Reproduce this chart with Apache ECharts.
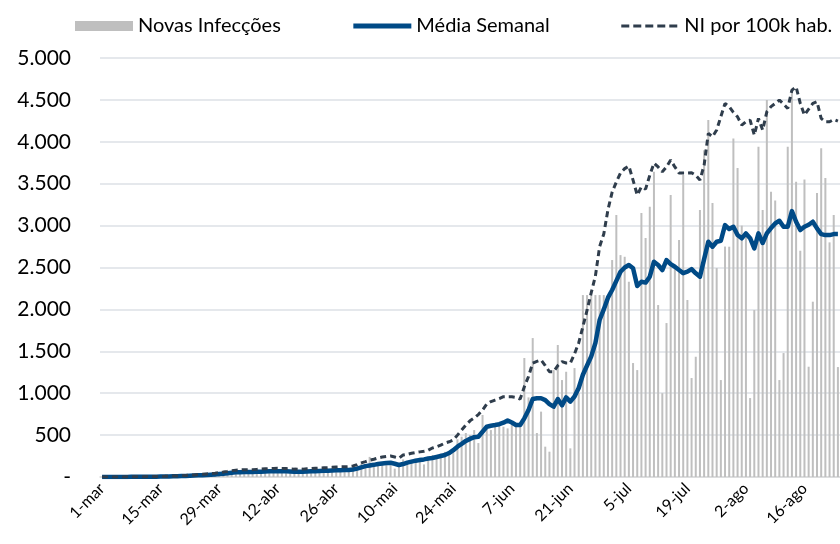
<!DOCTYPE html>
<html>
<head>
<meta charset="utf-8">
<script src="https://cdn.jsdelivr.net/npm/echarts@6/dist/echarts.min.js"></script>
<style>
  html, body { margin: 0; padding: 0; background: #fff; }
  #chart { width: 840px; height: 544px; }
</style>
</head>
<body>
<div id="chart"></div>
<script>
// categorias: um dia por ponto, de 1-mar a 24-ago
const meses = ['mar', 'abr', 'mai', 'jun', 'jul', 'ago']
const diasNoMes = [31, 30, 31, 30, 31, 24]
const dias = []
meses.forEach((m, k) => {
  for (let d = 1; d <= diasNoMes[k]; d++) dias.push(d + '-' + m)
})

// Novas Infecções (barras diárias)
const novasInfeccoes = [
  0, 0, 0, 0, 0, 1, 0, 2, 1, 3,
  2, 4, 5, 3, 6, 8, 5, 10, 12, 9,
  15, 18, 12, 22, 26, 30, 21, 35,
  48, 52, 70, 55, 66, 58, 62, 72,
  50, 68, 75, 70, 78, 66, 60, 72,
  55, 62, 70, 64, 80, 72, 68, 75,
  70, 82, 90, 76, 85, 88, 80, 95,
  110, 140, 160, 150, 240, 130, 160, 170,
  185, 140, 100, 130, 210, 190, 200, 220,
  230, 150, 230, 262, 250, 280, 300, 280,
  330, 450, 481, 525, 500, 560, 405, 740,
  600, 560, 600, 640, 600, 580, 620, 620,
  600, 1420, 950, 1658, 525, 780, 362, 302,
  1276, 1575, 1157, 1256, 342, 1300, 1000, 2171,
  2171, 2171, 2171, 2171, 2171, 2171, 2589, 3126,
  2648, 2628, 2330, 1360, 1276, 3149, 2852, 3225,
  3642, 2052, 1000, 1837, 3364, 2500, 2828, 3603,
  2112, 1181, 1435, 3185, 3900, 4259, 3269, 2493,
  1157, 2750, 2748, 4040, 3686, 3000, 2900, 942,
  1992, 3941, 3185, 4498, 3404, 3300, 1157, 1479,
  3941, 4600, 3523, 2700, 3550, 1316, 2092, 3388,
  3922, 3567, 2800, 3126, 1312
]

// Média Semanal
const mediaSemanal = [
  0, 0, 0, 0, 1, 1, 1, 2, 2, 2,
  3, 3, 4, 4, 5, 6, 7, 8, 9, 11,
  13, 15, 17, 20, 22, 25, 28, 31,
  35, 40, 46, 52, 56, 58, 60, 60,
  60, 62, 64, 66, 68, 70, 70, 69,
  68, 66, 64, 63, 64, 66, 68, 70,
  72, 74, 76, 78, 80, 82, 83, 84,
  90, 100, 115, 130, 138, 145, 155, 162,
  168, 170, 158, 143, 155, 172, 183, 195,
  203, 210, 220, 227, 238, 250, 262, 286,
  320, 362, 395, 430, 455, 475, 480, 540,
  600, 612, 620, 630, 648, 675, 650, 620,
  620, 700, 800, 930, 940, 940, 918, 870,
  839, 930, 855, 950, 900, 960, 1062, 1220,
  1330, 1440, 1600, 1873, 2000, 2140, 2231, 2340,
  2449, 2500, 2529, 2490, 2279, 2330, 2320, 2390,
  2569, 2530, 2470, 2589, 2540, 2509, 2470, 2433,
  2450, 2481, 2430, 2390, 2600, 2807, 2748, 2807,
  2819, 3006, 2959, 2986, 2887, 2848, 2907, 2850,
  2728, 2907, 2792, 2907, 2970, 3026, 3058, 2986,
  2986, 3173, 3046, 2947, 2986, 3010, 3046, 2967,
  2899, 2887, 2887, 2899, 2899
]

// NI por 100k hab. (na escala do eixo principal)
const niPor100k = [
  0, 0, 0, 0, 1, 1, 2, 2, 3, 3,
  4, 5, 5, 6, 7, 8, 10, 12, 13, 16,
  19, 22, 25, 29, 33, 37, 41, 46,
  52, 59, 67, 76, 82, 85, 88, 88,
  88, 91, 94, 97, 100, 102, 103, 101,
  100, 97, 94, 92, 94, 97, 100, 103,
  106, 109, 112, 115, 118, 121, 122, 124,
  132, 147, 168, 183, 200, 212, 227, 238,
  245, 250, 238, 225, 262, 270, 283, 292,
  300, 308, 320, 346, 360, 380, 405, 420,
  441, 500, 560, 620, 670, 704, 745, 800,
  870, 900, 918, 935, 958, 958, 958, 950,
  930, 1077, 1200, 1360, 1380, 1396, 1330, 1256,
  1256, 1330, 1376, 1360, 1360, 1470, 1600, 1793,
  1990, 2200, 2400, 2748, 2900, 3190, 3400, 3520,
  3627, 3680, 3710, 3543, 3364, 3463, 3436, 3600,
  3746, 3700, 3642, 3700, 3782, 3700, 3627, 3627,
  3627, 3630, 3600, 3543, 3722, 4100, 4060, 4140,
  4300, 4458, 4418, 4350, 4298, 4199, 4240, 4259,
  4080, 4279, 4140, 4358, 4420, 4458, 4498, 4450,
  4398, 4617, 4656, 4458, 4319, 4390, 4458, 4478,
  4279, 4239, 4239, 4267, 4247
]

const chart = echarts.init(document.getElementById('chart'))

function milhares(v) {
  if (v === 0) return '-'
  return String(v).replace(/\B(?=(\d{3})+(?!\d))/g, '.')
}

chart.setOption({
  animation: false,
  textStyle: { fontFamily: 'Lato' },
  legend: {
    top: 11,
    left: 70,
    itemWidth: 58,
    itemHeight: 10,
    itemGap: 70,
    textStyle: { fontSize: 20, color: '#000' },
    data: [
      { name: 'Novas Infecções', icon: 'rect' },
      {
        name: 'Média Semanal',
        itemStyle: { opacity: 0 },
        lineStyle: { width: 5 }
      },
      {
        name: 'NI por 100k hab.',
        itemStyle: { opacity: 0 },
        lineStyle: { width: 3, type: [8, 4] }
      }
    ]
  },
  grid: { left: 100, right: 0, top: 58, bottom: 67 },
  xAxis: {
    type: 'category',
    data: dias,
    boundaryGap: true,
    axisLine: { lineStyle: { color: '#d9d9d9', width: 1.5 } },
    axisTick: { show: false },
    axisLabel: {
      interval: 13,
      rotate: 45,
      fontSize: 16,
      color: '#000',
      margin: 9
    }
  },
  yAxis: {
    type: 'value',
    min: 0,
    max: 5000,
    interval: 500,
    axisLine: { show: false },
    axisTick: { show: false },
    axisLabel: { fontSize: 21, color: '#000', margin: 29, formatter: milhares },
    splitLine: { lineStyle: { color: '#dde1e6', width: 1.5 } }
  },
  series: [
    {
      name: 'Novas Infecções',
      type: 'bar',
      data: novasInfeccoes,
      barWidth: 2,
      itemStyle: { color: '#bfbfbf' }
    },
    {
      name: 'Média Semanal',
      type: 'line',
      data: mediaSemanal,
      symbol: 'none',
      itemStyle: { color: '#004a86' },
      lineStyle: { color: '#004a86', width: 4.5, join: 'round' }
    },
    {
      name: 'NI por 100k hab.',
      type: 'line',
      data: niPor100k,
      symbol: 'none',
      itemStyle: { color: '#2f3d4c' },
      lineStyle: { color: '#2f3d4c', width: 3, type: [6, 4] }
    }
  ]
})
</script>
</body>
</html>
